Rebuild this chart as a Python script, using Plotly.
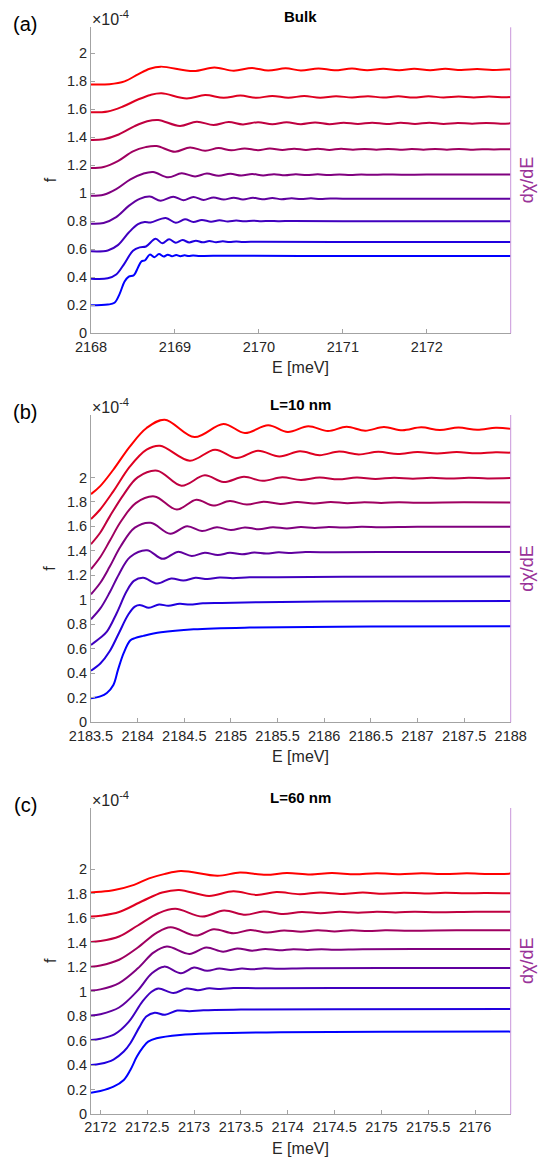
import plotly.graph_objects as go

# ---------------- data (f in units of 1e-4) ----------------
# Panel (a): Bulk  -- (E [meV], f) key points per curve, bottom (blue) to top (red)
bulk_0 = [(2168.00,0.200),(2168.20,0.205),(2168.28,0.218),(2168.34,0.280),(2168.40,0.370),(2168.45,0.405),(2168.51,0.415),(2168.56,0.470),(2168.60,0.513),(2168.645,0.522),(2168.70,0.562),(2168.755,0.544),(2168.81,0.566),(2168.865,0.548),(2168.915,0.562),(2168.965,0.550),(2169.015,0.559),(2169.065,0.551),(2169.115,0.557),(2169.165,0.552),(2169.215,0.556),(2169.30,0.553),(2169.60,0.554),(2170.50,0.553),(2173.00,0.552)]
bulk_1 = [(2168.00,0.390),(2168.20,0.393),(2168.30,0.420),(2168.40,0.500),(2168.50,0.590),(2168.58,0.614),(2168.655,0.620),(2168.77,0.675),(2168.85,0.643),(2168.93,0.671),(2169.01,0.647),(2169.09,0.666),(2169.17,0.649),(2169.25,0.662),(2169.33,0.650),(2169.41,0.659),(2169.49,0.651),(2169.57,0.657),(2169.65,0.652),(2169.73,0.656),(2169.81,0.653),(2170.00,0.654),(2171.00,0.653),(2173.00,0.652)]
bulk_2 = [(2168.00,0.586),(2168.20,0.592),(2168.32,0.630),(2168.45,0.720),(2168.56,0.780),(2168.64,0.795),(2168.71,0.792),(2168.89,0.824),(2169.01,0.790),(2169.12,0.814),(2169.22,0.795),(2169.32,0.810),(2169.43,0.797),(2169.53,0.807),(2169.63,0.799),(2169.73,0.805),(2169.83,0.800),(2169.93,0.804),(2170.03,0.801),(2170.13,0.803),(2170.23,0.801),(2170.40,0.802),(2171.00,0.801),(2173.00,0.800)]
bulk_3 = [(2168.00,0.783),(2168.15,0.788),(2168.30,0.830),(2168.45,0.910),(2168.58,0.960),(2168.70,0.977),(2168.83,0.947),(2168.98,0.976),(2169.10,0.951),(2169.22,0.974),(2169.34,0.953),(2169.46,0.971),(2169.58,0.955),(2169.70,0.969),(2169.81,0.956),(2169.93,0.968),(2170.04,0.957),(2170.16,0.966),(2170.27,0.958),(2170.39,0.965),(2170.50,0.959),(2170.62,0.964),(2170.73,0.960),(2170.85,0.963),(2171.00,0.961),(2171.50,0.962),(2173.00,0.962)]
bulk_4 = [(2168.00,0.983),(2168.15,0.990),(2168.30,1.030),(2168.47,1.100),(2168.62,1.140),(2168.74,1.152),(2168.92,1.114),(2169.08,1.143),(2169.24,1.121),(2169.38,1.141),(2169.52,1.125),(2169.66,1.139),(2169.79,1.127),(2169.92,1.138),(2170.05,1.128),(2170.18,1.137),(2170.31,1.129),(2170.44,1.136),(2170.57,1.130),(2170.70,1.136),(2170.83,1.131),(2170.96,1.135),(2171.09,1.131),(2171.22,1.135),(2171.35,1.132),(2171.48,1.135),(2171.70,1.133),(2172.00,1.134),(2173.00,1.134)]
bulk_5 = [(2168.00,1.181),(2168.15,1.188),(2168.32,1.230),(2168.50,1.300),(2168.65,1.330),(2168.78,1.338),(2169.00,1.297),(2169.18,1.328),(2169.36,1.304),(2169.52,1.323),(2169.67,1.307),(2169.83,1.321),(2169.99,1.308),(2170.13,1.320),(2170.28,1.309),(2170.42,1.319),(2170.56,1.310),(2170.70,1.318),(2170.84,1.310),(2170.98,1.318),(2171.12,1.311),(2171.26,1.317),(2171.40,1.311),(2171.54,1.317),(2171.68,1.311),(2171.82,1.316),(2171.96,1.312),(2172.10,1.316),(2172.24,1.312),(2172.38,1.316),(2172.52,1.312),(2172.66,1.315),(2172.80,1.313),(2172.94,1.315),(2173.00,1.314)]
bulk_6 = [(2168.00,1.381),(2168.15,1.386),(2168.33,1.420),(2168.52,1.480),(2168.67,1.515),(2168.80,1.524),(2169.06,1.481),(2169.26,1.512),(2169.46,1.488),(2169.64,1.509),(2169.81,1.492),(2169.99,1.508),(2170.16,1.493),(2170.33,1.507),(2170.50,1.494),(2170.67,1.506),(2170.84,1.494),(2171.01,1.505),(2171.18,1.495),(2171.35,1.505),(2171.52,1.495),(2171.69,1.504),(2171.86,1.496),(2172.03,1.504),(2172.20,1.496),(2172.37,1.503),(2172.54,1.497),(2172.71,1.503),(2172.88,1.497),(2173.00,1.500)]
bulk_7 = [(2168.00,1.579),(2168.20,1.585),(2168.38,1.620),(2168.56,1.670),(2168.71,1.703),(2168.84,1.714),(2169.14,1.678),(2169.36,1.702),(2169.58,1.682),(2169.78,1.698),(2169.97,1.682),(2170.16,1.696),(2170.35,1.683),(2170.54,1.695),(2170.73,1.683),(2170.92,1.694),(2171.11,1.684),(2171.30,1.694),(2171.48,1.684),(2171.66,1.693),(2171.84,1.684),(2172.02,1.693),(2172.20,1.685),(2172.38,1.692),(2172.56,1.685),(2172.74,1.692),(2172.92,1.686),(2173.00,1.688)]
bulk_8 = [(2168.00,1.778),(2168.22,1.780),(2168.40,1.800),(2168.56,1.850),(2168.70,1.890),(2168.83,1.905),(2169.22,1.873),(2169.47,1.899),(2169.70,1.876),(2169.92,1.895),(2170.11,1.877),(2170.32,1.893),(2170.50,1.878),(2170.71,1.892),(2170.90,1.879),(2171.11,1.891),(2171.29,1.879),(2171.48,1.890),(2171.67,1.880),(2171.85,1.889),(2172.04,1.880),(2172.22,1.889),(2172.41,1.881),(2172.60,1.888),(2172.78,1.881),(2173.00,1.886)]

# Panel (b): L = 10 nm
l10_0 = [(2183.50,0.196),(2183.60,0.212),(2183.67,0.240),(2183.74,0.305),(2183.79,0.430),(2183.85,0.565),(2183.92,0.668),(2183.97,0.688),(2184.06,0.706),(2184.25,0.735),(2184.60,0.760),(2185.20,0.774),(2186.50,0.782),(2188.00,0.785)]
l10_1 = [(2183.50,0.422),(2183.60,0.480),(2183.70,0.580),(2183.80,0.730),(2183.90,0.880),(2183.97,0.945),(2184.03,0.957),(2184.12,0.935),(2184.23,0.962),(2184.33,0.952),(2184.45,0.968),(2184.56,0.962),(2184.70,0.972),(2184.90,0.975),(2185.30,0.981),(2186.00,0.986),(2187.00,0.989),(2188.00,0.990)]
l10_2 = [(2183.50,0.632),(2183.60,0.690),(2183.67,0.740),(2183.775,0.891),(2183.882,1.070),(2183.96,1.155),(2184.06,1.180),(2184.21,1.133),(2184.36,1.175),(2184.49,1.158),(2184.62,1.180),(2184.75,1.170),(2184.88,1.183),(2185.02,1.177),(2185.20,1.185),(2185.50,1.185),(2186.20,1.189),(2188.00,1.190)]
l10_3 = [(2183.50,0.842),(2183.60,0.930),(2183.70,1.060),(2183.80,1.210),(2183.92,1.350),(2184.10,1.405),(2184.27,1.335),(2184.43,1.392),(2184.58,1.358),(2184.72,1.385),(2184.86,1.366),(2184.99,1.384),(2185.12,1.372),(2185.25,1.386),(2185.38,1.378),(2185.51,1.388),(2185.65,1.383),(2185.80,1.390),(2186.10,1.388),(2186.60,1.391),(2188.00,1.392)]
l10_4 = [(2183.50,1.046),(2183.60,1.140),(2183.70,1.270),(2183.82,1.440),(2183.97,1.590),(2184.14,1.630),(2184.35,1.540),(2184.53,1.602),(2184.69,1.562),(2184.85,1.594),(2185.00,1.570),(2185.15,1.592),(2185.30,1.577),(2185.45,1.594),(2185.60,1.583),(2185.75,1.595),(2185.90,1.588),(2186.05,1.596),(2186.20,1.591),(2186.40,1.597),(2186.60,1.594),(2187.00,1.597),(2188.00,1.597)]
l10_5 = [(2183.50,1.251),(2183.60,1.350),(2183.70,1.480),(2183.82,1.640),(2183.98,1.790),(2184.18,1.845),(2184.42,1.738),(2184.63,1.818),(2184.81,1.770),(2184.99,1.807),(2185.17,1.778),(2185.35,1.802),(2185.53,1.784),(2185.71,1.800),(2185.89,1.788),(2186.07,1.799),(2186.25,1.790),(2186.43,1.798),(2186.61,1.792),(2186.80,1.798),(2187.00,1.794),(2187.50,1.797),(2188.00,1.796)]
l10_6 = [(2183.50,1.455),(2183.60,1.550),(2183.70,1.680),(2183.85,1.860),(2184.00,2.000),(2184.21,2.055),(2184.47,1.932),(2184.72,2.017),(2184.92,1.962),(2185.14,2.005),(2185.34,1.972),(2185.55,2.001),(2185.75,1.980),(2185.95,1.999),(2186.15,1.985),(2186.35,1.999),(2186.55,1.988),(2186.75,1.998),(2186.95,1.990),(2187.15,1.997),(2187.35,1.991),(2187.55,1.997),(2187.75,1.992),(2188.00,1.995)]
l10_7 = [(2183.50,1.660),(2183.596,1.736),(2183.739,1.886),(2183.918,2.090),(2184.096,2.227),(2184.24,2.259),(2184.56,2.137),(2184.83,2.227),(2185.06,2.158),(2185.29,2.218),(2185.52,2.172),(2185.74,2.213),(2185.95,2.182),(2186.16,2.211),(2186.37,2.188),(2186.58,2.209),(2186.79,2.192),(2187.00,2.208),(2187.21,2.195),(2187.42,2.207),(2187.63,2.197),(2187.84,2.205),(2188.00,2.202)]
l10_8 = [(2183.50,1.864),(2183.596,1.927),(2183.739,2.063),(2183.918,2.254),(2184.096,2.404),(2184.29,2.472),(2184.61,2.330),(2184.92,2.437),(2185.15,2.363),(2185.40,2.426),(2185.61,2.371),(2185.83,2.418),(2186.04,2.379),(2186.24,2.414),(2186.44,2.382),(2186.64,2.411),(2186.84,2.385),(2187.04,2.409),(2187.24,2.387),(2187.44,2.407),(2187.64,2.389),(2187.84,2.405),(2188.00,2.398)]

# Panel (c): L = 60 nm
l60_0 = [(2171.90,0.174),(2172.00,0.188),(2172.14,0.223),(2172.25,0.278),(2172.32,0.360),(2172.39,0.469),(2172.46,0.550),(2172.51,0.591),(2172.60,0.619),(2172.85,0.646),(2173.21,0.659),(2173.92,0.668),(2175.00,0.671),(2176.38,0.673)]
l60_1 = [(2171.90,0.401),(2172.00,0.410),(2172.14,0.445),(2172.25,0.510),(2172.32,0.578),(2172.42,0.714),(2172.49,0.796),(2172.58,0.828),(2172.69,0.810),(2172.82,0.845),(2172.95,0.840),(2173.10,0.848),(2173.50,0.853),(2174.50,0.856),(2176.38,0.858)]
l60_2 = [(2171.90,0.605),(2172.00,0.615),(2172.15,0.650),(2172.30,0.750),(2172.45,0.920),(2172.54,0.995),(2172.62,1.025),(2172.78,0.988),(2172.92,1.025),(2173.04,1.012),(2173.16,1.027),(2173.28,1.021),(2173.42,1.029),(2173.70,1.028),(2174.50,1.030),(2176.38,1.030)]
l60_3 = [(2171.90,0.804),(2172.00,0.815),(2172.20,0.870),(2172.40,1.010),(2172.55,1.150),(2172.68,1.204),(2172.86,1.150),(2173.00,1.196),(2173.14,1.170),(2173.27,1.189),(2173.39,1.176),(2173.51,1.188),(2173.63,1.182),(2173.75,1.190),(2173.90,1.187),(2174.20,1.191),(2175.00,1.193),(2176.38,1.193)]
l60_4 = [(2171.90,1.008),(2172.00,1.018),(2172.20,1.070),(2172.40,1.190),(2172.57,1.320),(2172.71,1.368),(2172.95,1.308),(2173.13,1.360),(2173.31,1.326),(2173.46,1.353),(2173.62,1.334),(2173.76,1.349),(2173.91,1.337),(2174.06,1.347),(2174.21,1.340),(2174.36,1.347),(2174.50,1.342),(2174.80,1.347),(2175.50,1.348),(2176.38,1.349)]
l60_5 = [(2171.90,1.204),(2172.00,1.213),(2172.20,1.260),(2172.40,1.360),(2172.60,1.480),(2172.75,1.526),(2173.02,1.458),(2173.21,1.510),(2173.42,1.477),(2173.60,1.503),(2173.78,1.483),(2173.96,1.500),(2174.14,1.489),(2174.32,1.501),(2174.50,1.492),(2174.68,1.501),(2174.86,1.495),(2175.04,1.501),(2175.30,1.498),(2175.80,1.501),(2176.38,1.501)]
l60_6 = [(2171.90,1.406),(2172.00,1.413),(2172.20,1.450),(2172.40,1.540),(2172.62,1.640),(2172.80,1.676),(2173.09,1.613),(2173.32,1.662),(2173.55,1.627),(2173.74,1.655),(2173.95,1.635),(2174.15,1.651),(2174.35,1.640),(2174.55,1.652),(2174.75,1.644),(2174.95,1.652),(2175.15,1.647),(2175.35,1.652),(2175.60,1.649),(2176.00,1.653),(2176.38,1.653)]
l60_7 = [(2171.90,1.613),(2172.00,1.620),(2172.20,1.650),(2172.45,1.740),(2172.66,1.810),(2172.84,1.831),(2173.16,1.782),(2173.42,1.820),(2173.67,1.790),(2173.88,1.813),(2174.13,1.796),(2174.35,1.810),(2174.58,1.798),(2174.80,1.809),(2175.02,1.800),(2175.24,1.808),(2175.46,1.802),(2175.68,1.807),(2175.90,1.803),(2176.10,1.806),(2176.38,1.804)]
l60_8 = [(2171.90,1.810),(2172.00,1.815),(2172.15,1.830),(2172.36,1.872),(2172.52,1.925),(2172.68,1.960),(2172.86,1.986),(2173.25,1.946),(2173.49,1.973),(2173.77,1.954),(2173.99,1.969),(2174.24,1.957),(2174.47,1.968),(2174.72,1.958),(2174.95,1.967),(2175.20,1.959),(2175.43,1.966),(2175.68,1.960),(2175.91,1.966),(2176.15,1.961),(2176.38,1.964)]

bulk_xticks = [2168, 2169, 2170, 2171, 2172]
l10_xticks = [2183.5, 2184, 2184.5, 2185, 2185.5, 2186, 2186.5, 2187, 2187.5, 2188]
l60_xticks = [2172, 2172.5, 2173, 2173.5, 2174, 2174.5, 2175, 2175.5, 2176]
y_ticks = [0, 0.2, 0.4, 0.6, 0.8, 1.0, 1.2, 1.4, 1.6, 1.8, 2.0]
y_ticklabels = ["0", "0.2", "0.4", "0.6", "0.8", "1", "1.2", "1.4", "1.6", "1.8", "2"]
titles = ["Bulk", "L=10 nm", "L=60 nm"]
tags = ["(a)", "(b)", "(c)"]

# ---------------- styling ----------------
W, H = 546, 1161
FONT = "Liberation Sans, Arial, Helvetica, sans-serif"
TXT = "#262626"
AXC = "#A3A3A3"
PURPLE = "#993399"
RIGHTAX = "#C996DB"
colors = ["#0000FF", "#2000DF", "#4000BF", "#60009F", "#80007F",
          "#9F0060", "#BF0040", "#DF0020", "#FF0000"]

def fx(p):
    return p / W

def fy(p):
    return 1 - p / H

panels = [
    dict(curves=[bulk_0, bulk_1, bulk_2, bulk_3, bulk_4, bulk_5, bulk_6, bulk_7, bulk_8],
         xr=[2168, 2173], yr=[0, 2.186], top=27.3, bot=333.3, xt=bulk_xticks),
    dict(curves=[l10_0, l10_1, l10_2, l10_3, l10_4, l10_5, l10_6, l10_7, l10_8],
         xr=[2183.5, 2188], yr=[0, 2.51], top=415.0, bot=722.3, xt=l10_xticks),
    dict(curves=[l60_0, l60_1, l60_2, l60_3, l60_4, l60_5, l60_6, l60_7, l60_8],
         xr=[2171.9, 2176.38], yr=[0, 2.50], top=808.0, bot=1114.0, xt=l60_xticks),
]
LEFT, RIGHT = 91.0, 510.7

fig = go.Figure()
layout = dict(template="none", width=W, height=H, margin=dict(l=0, r=0, t=0, b=0, pad=0),
              paper_bgcolor="white", plot_bgcolor="white",
              showlegend=False, font=dict(family=FONT, size=14, color=TXT))
annotations = []
shapes = []

def fmt(v):
    s = ("%.1f" % v)
    return s[:-2] if s.endswith(".0") else s

for k, p in enumerate(panels):
    sfx = "" if k == 0 else str(k + 1)
    for i, c in enumerate(p["curves"]):
        fig.add_trace(go.Scatter(
            x=[pt[0] for pt in c], y=[pt[1] for pt in c], mode="lines",
            line=dict(color=colors[i], width=2, shape="spline", smoothing=1.0),
            xaxis="x" + sfx, yaxis="y" + sfx, hoverinfo="skip"))
    ydom = [fy(p["bot"]), fy(p["top"])]
    layout["xaxis" + sfx] = dict(
        domain=[fx(LEFT), fx(RIGHT)], range=p["xr"], anchor="y" + sfx, automargin=False,
        tickmode="array", tickvals=p["xt"], ticktext=[fmt(v) for v in p["xt"]],
        ticks="inside", ticklen=4, tickwidth=1, tickcolor=AXC,
        showline=True, linecolor=AXC, linewidth=1, showgrid=False, zeroline=False,
        tickfont=dict(size=14.5, color=TXT, family=FONT), fixedrange=True)
    layout["yaxis" + sfx] = dict(
        domain=ydom, range=p["yr"], anchor="x" + sfx, automargin=False,
        tickmode="array", tickvals=y_ticks, ticktext=y_ticklabels,
        ticks="inside", ticklen=4, tickwidth=1, tickcolor=AXC,
        showline=True, linecolor=AXC, linewidth=1, showgrid=False, zeroline=False,
        tickfont=dict(size=14.5, color=TXT, family=FONT), fixedrange=True)
    # right-hand axis line
    shapes.append(dict(type="line", xref="paper", yref="paper",
                       x0=fx(RIGHT), x1=fx(RIGHT), y0=ydom[0], y1=ydom[1],
                       line=dict(color=RIGHTAX, width=1)))
    mid = (p["top"] + p["bot"]) / 2
    annotations += [
        dict(text="<b>%s</b>" % titles[k], x=fx((LEFT + RIGHT) / 2), y=fy(p["top"] - 11),
             xref="paper", yref="paper", showarrow=False, xanchor="center", yanchor="middle",
             font=dict(size=15, color="#000000", family=FONT)),
        dict(text=tags[k], x=fx(25), y=fy(p["top"] - 3), xref="paper", yref="paper",
             showarrow=False, xanchor="center", yanchor="middle",
             font=dict(size=20, color="#000000", family=FONT)),
        dict(text="×10<sup>-4</sup>", x=fx(LEFT - 1), y=fy(p["top"] - 9), xref="paper", yref="paper",
             showarrow=False, xanchor="left", yanchor="middle",
             font=dict(size=16, color=TXT, family=FONT)),
        dict(text="f", x=fx(50), y=fy(mid), xref="paper", yref="paper", textangle=-90,
             showarrow=False, xanchor="center", yanchor="middle",
             font=dict(size=16, color=TXT, family=FONT)),
        dict(text="E [meV]", x=fx((LEFT + RIGHT) / 2), y=fy(p["bot"] + 34), xref="paper", yref="paper",
             showarrow=False, xanchor="center", yanchor="middle",
             font=dict(size=16, color=TXT, family=FONT)),
        dict(text="dχ/dE", x=fx(527), y=fy(mid), xref="paper", yref="paper", textangle=-90,
             showarrow=False, xanchor="center", yanchor="middle",
             font=dict(size=18, color=PURPLE, family=FONT)),
    ]

layout["annotations"] = annotations
layout["shapes"] = shapes
fig.update_layout(**layout)
fig.write_html("out.html",
               config={"displayModeBar": False, "staticPlot": True},
               post_script="document.body.style.margin='0';document.body.style.padding='0';"
                           "document.body.style.overflow='hidden';")
